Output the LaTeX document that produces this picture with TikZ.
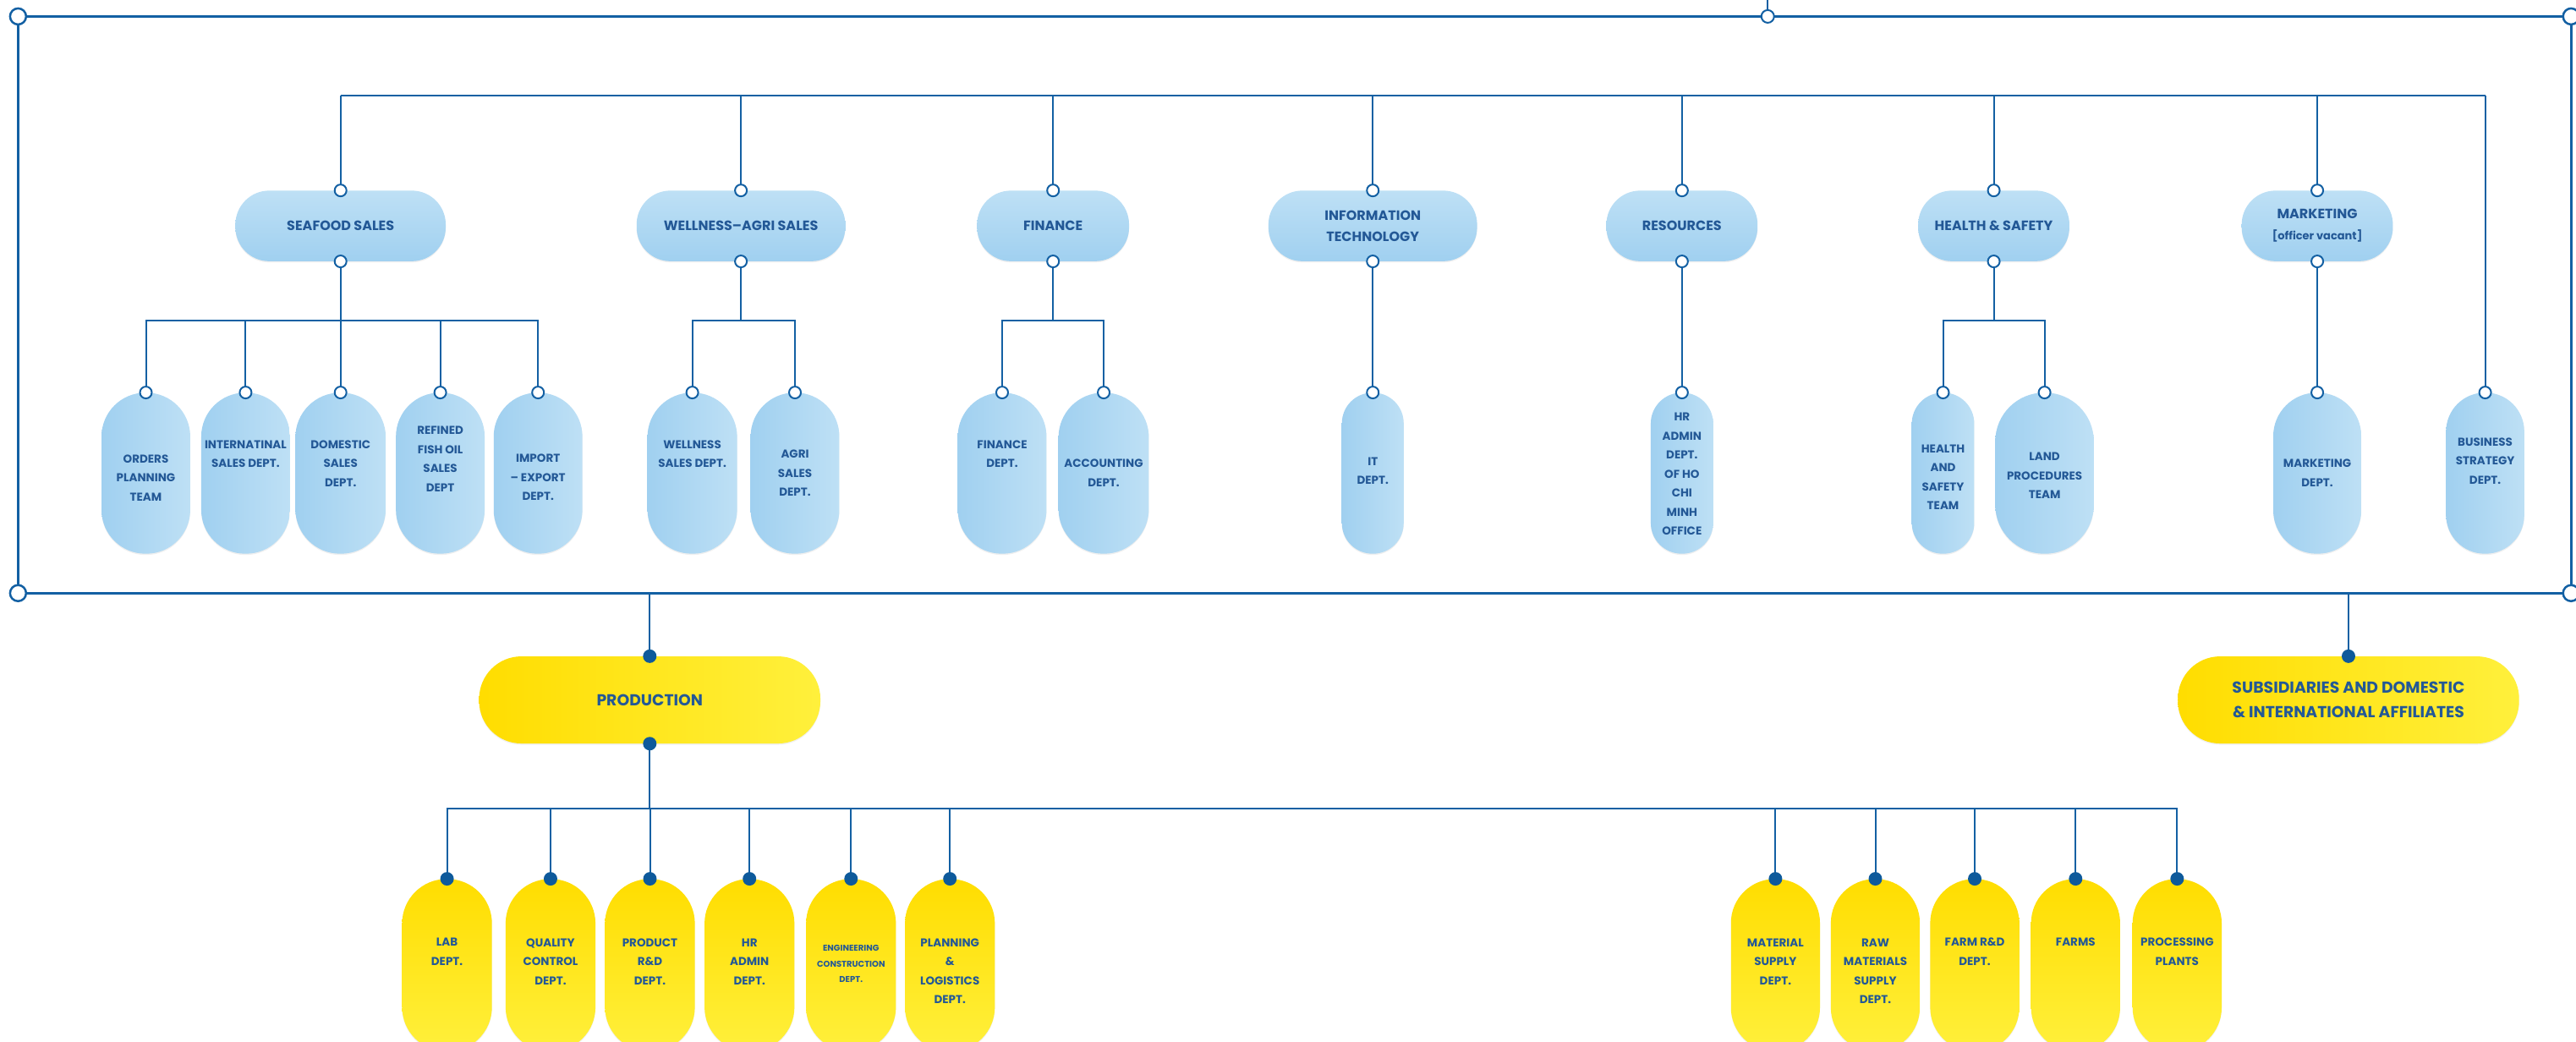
\documentclass[tikz,border=0pt]{standalone}
\usepackage{fontspec}
\setmainfont{Poppins}
\usetikzlibrary{shadows}
\definecolor{lnC}{RGB}{19,96,163}
\definecolor{dotC}{RGB}{14,90,155}
\definecolor{txC}{RGB}{35,88,150}
\definecolor{blueA}{RGB}{190,224,245}
\definecolor{blueB}{RGB}{160,208,240}
\definecolor{yelA}{RGB}{255,221,0}
\definecolor{yelB}{RGB}{255,240,60}
\begin{document}
\begin{tikzpicture}[x=1.9426pt,y=-1.9426pt,
  line/.style={draw=lnC, line width=2pt},
  framel/.style={draw=lnC, line width=3pt},
  ocirc/.style={circle, draw=lnC, fill=white, line width=2pt, minimum size=14pt, inner sep=0pt},
  bigcirc/.style={circle, draw=lnC, fill=white, line width=2.5pt, minimum size=19pt, inner sep=0pt},
  dotc/.style={circle, fill=dotC, minimum size=16pt, inner sep=0pt},
  shd/.style={drop shadow={shadow xshift=0pt, shadow yshift=-1.5pt, opacity=0.12}},
  hbox/.style={rectangle, inner sep=0pt, minimum width=#1*1.9426pt, minimum height=83.5pt,
    rounded corners=40pt, top color=blueA, bottom color=blueB, shd, text=txC, align=center,
    font=\bfseries\fontsize{16}{25}\selectfont},
  vpill/.style={rectangle, inner sep=0pt, minimum width=#1*1.9426pt, minimum height=190.4pt,
    rounded corners=#1*0.96pt, left color=blueB, right color=blueA, shd},
  ypill/.style={rectangle, inner sep=0pt, minimum width=#1*1.9426pt, minimum height=204pt,
    rounded corners=#1*0.96pt, top color=yelA, bottom color=yelB, shd},
  yhbox/.style={rectangle, inner sep=0pt, minimum width=#1*1.9426pt, minimum height=103pt,
    rounded corners=50pt, left color=yelA, right color=yelB, shd, text=txC, align=center,
    font=\bfseries\fontsize{18.8}{29}\selectfont},
  ptxt/.style={text=txC, align=center, inner sep=0pt, font=\bfseries\fontsize{13.5}{22.5}\selectfont},
  stxt/.style={text=txC, align=center, inner sep=0pt, font=\bfseries\fontsize{10}{18.5}\selectfont}
]
\useasboundingbox (0,0) rectangle (1568,634);
\clip (0,0) rectangle (1568,634);

% ---------- frame ----------
\coordinate (fTL) at (11,10);
\coordinate (fTR) at (1565,10);
\coordinate (fBL) at (11,361);
\coordinate (fBR) at (1565,361);
\draw[framel] (fTL) -- (fTR) -- (fBR) -- (fBL) -- cycle;
\coordinate (ftop) at (1076,10);
\coordinate (ext) at (1076,0);
\draw[line] (ext) -- (ftop);

% ---------- level 1 ----------
\node[hbox=128] (sea) at (207.3,137.5) {SEAFOOD SALES};
\node[hbox=127] (wel) at (451,137.5) {WELLNESS–AGRI SALES};
\node[hbox=92.5] (fin) at (641,137.5) {FINANCE};
\node[hbox=127] (itc) at (835.6,137.5) {INFORMATION\\TECHNOLOGY};
\node[hbox=92] (res) at (1023.8,137.5) {RESOURCES};
\node[hbox=92] (hs) at (1213.6,137.5) {HEALTH \& SAFETY};
\node[hbox=92] (mkt) at (1410.5,137.5) {MARKETING\\{\fontsize{13}{16}\selectfont [officer vacant]}};

% ---------- level 2 pills ----------
\node[vpill=54] (p1) at (88.8,288) {};
\node[vpill=54] (p2) at (149.5,288) {};
\node[vpill=55] (p3) at (207.3,288) {};
\node[vpill=54] (p4) at (268,288) {};
\node[vpill=54] (p5) at (327.5,288) {};
\node[vpill=54.6] (p6) at (421.4,288) {};
\node[vpill=54] (p7) at (483.9,288) {};
\node[vpill=54] (p8) at (610,288) {};
\node[vpill=55] (p9) at (671.8,288) {};
\node[vpill=37.6] (p10) at (835.6,288) {};
\node[vpill=38] (p11) at (1023.8,288) {};
\node[vpill=38] (p12) at (1182.7,288) {};
\node[vpill=60] (p13) at (1244.5,288) {};
\node[vpill=53.6] (p14) at (1410.5,288) {};
\node[vpill=47.6] (bst) at (1512.7,288) {};

\node[ptxt] (t1) at (88.8,290.7) {ORDERS\\PLANNING\\TEAM};
\node[ptxt] (t2) at (149.5,276.4) {INTERNATINAL\\SALES DEPT.};
\node[ptxt] (t3) at (207.3,282.2) {DOMESTIC\\SALES\\DEPT.};
\node[ptxt] (t4) at (268,279.5) {REFINED\\FISH OIL\\SALES\\DEPT};
\node[ptxt] (t5) at (327.5,290.7) {IMPORT\\– EXPORT\\DEPT.};
\node[ptxt] (t6) at (421.4,276.4) {WELLNESS\\SALES DEPT.};
\node[ptxt] (t7) at (483.9,288) {AGRI\\SALES\\DEPT.};
\node[ptxt] (t8) at (610,276.4) {FINANCE\\DEPT.};
\node[ptxt] (t9) at (671.8,288) {ACCOUNTING\\DEPT.};
\node[ptxt] (t10) at (835.6,286.6) {IT\\DEPT.};
\node[ptxt] (t11) at (1023.8,288.5) {HR\\ADMIN\\DEPT.\\OF HO\\CHI\\MINH\\OFFICE};
\node[ptxt] (t12) at (1182.7,290.5) {HEALTH\\AND\\SAFETY\\TEAM};
\node[ptxt] (t13) at (1244.5,289.6) {LAND\\PROCEDURES\\TEAM};
\node[ptxt] (t14) at (1410.5,287.8) {MARKETING\\DEPT.};
\node[ptxt] (t15) at (1512.7,280.5) {BUSINESS\\STRATEGY\\DEPT.};

% ---------- production / subsidiaries ----------
\node[yhbox=207.7] (prod) at (395.5,426) {PRODUCTION};
\node[yhbox=207.7] (sub) at (1429.5,426) {SUBSIDIARIES AND DOMESTIC\\\& INTERNATIONAL AFFILIATES};

\node[ypill=54.7] (y1) at (272.1,587.5) {};
\node[ypill=54.7] (y2) at (335.1,587.5) {};
\node[ypill=54.7] (y3) at (395.6,587.5) {};
\node[ypill=54.7] (y4) at (456.2,587.5) {};
\node[ypill=54.7] (y5) at (518,587.5) {};
\node[ypill=54.7] (y6) at (578.2,587.5) {};
\node[ypill=54.2] (r1) at (1080.7,587.5) {};
\node[ypill=54.2] (r2) at (1141.5,587.5) {};
\node[ypill=54.2] (r3) at (1202,587.5) {};
\node[ypill=54.2] (r4) at (1263.4,587.5) {};
\node[ypill=54.2] (r5) at (1325.2,587.5) {};

\node[ptxt] (u1) at (272.1,579.3) {LAB\\DEPT.};
\node[ptxt] (u2) at (335.1,585.2) {QUALITY\\CONTROL\\DEPT.};
\node[ptxt] (u3) at (395.6,585.2) {PRODUCT\\R\&D\\DEPT.};
\node[ptxt] (u4) at (456.2,585.2) {HR\\ADMIN\\DEPT.};
\node[stxt] (u5) at (518,586.6) {ENGINEERING\\CONSTRUCTION\\DEPT.};
\node[ptxt] (u6) at (578.2,591) {PLANNING\\\&\\LOGISTICS\\DEPT.};
\node[ptxt] (v1) at (1080.7,585.2) {MATERIAL\\SUPPLY\\DEPT.};
\node[ptxt] (v2) at (1141.5,591) {RAW\\MATERIALS\\SUPPLY\\DEPT.};
\node[ptxt] (v3) at (1202,579.3) {FARM R\&D\\DEPT.};
\node[ptxt] (v4) at (1263.4,573.4) {FARMS};
\node[ptxt] (v5) at (1325.2,579.3) {PROCESSING\\PLANTS};

% ---------- connectors ----------
\coordinate (tb) at (0,58);
\coordinate (sb) at (0,195);
\coordinate (pb) at (0,492);
\draw[line] (sea.north |- tb) -- (bst.north |- tb);
\foreach \X in {sea,wel,fin,itc,res,hs,mkt,bst}
  \draw[line] (\X.north) -- (\X.north |- tb);
\foreach \X in {p1,p2,p3,p4,p5}
  \draw[line] (sea.south) -- (sea.south |- sb) -| (\X.north);
\foreach \X in {p6,p7}
  \draw[line] (wel.south) -- (wel.south |- sb) -| (\X.north);
\foreach \X in {p8,p9}
  \draw[line] (fin.south) -- (fin.south |- sb) -| (\X.north);
\draw[line] (itc.south) -- (p10.north);
\draw[line] (res.south) -- (p11.north);
\foreach \X in {p12,p13}
  \draw[line] (hs.south) -- (hs.south |- sb) -| (\X.north);
\draw[line] (mkt.south) -- (p14.north);

\coordinate (fP) at (395.5,361);
\coordinate (fS) at (1429.5,361);
\draw[line] (fP) -- (prod.north);
\draw[line] (fS) -- (sub.north);
\foreach \X in {y1,y2,y3,y4,y5,y6,r1,r2,r3,r4,r5}
  \draw[line] (prod.south) -- (prod.south |- pb) -| (\X.north);

% ---------- circles and dots ----------
\foreach \X in {sea,wel,fin,itc,res,hs,mkt}{
  \node[ocirc] (ct-\X) at (\X.north) {};
  \node[ocirc] (cb-\X) at (\X.south) {};
}
\foreach \X in {p1,p2,p3,p4,p5,p6,p7,p8,p9,p10,p11,p12,p13,p14,bst}
  \node[ocirc] (ct-\X) at (\X.north) {};
\node[ocirc, minimum size=15pt] (ctop) at (ftop) {};
\foreach \X in {fTL,fTR,fBL,fBR}
  \node[bigcirc] (c-\X) at (\X) {};
\foreach \X in {prod,sub,y1,y2,y3,y4,y5,y6,r1,r2,r3,r4,r5}
  \node[dotc] (d-\X) at (\X.north) {};
\node[dotc] (db-prod) at (prod.south) {};
\end{tikzpicture}
\end{document}
